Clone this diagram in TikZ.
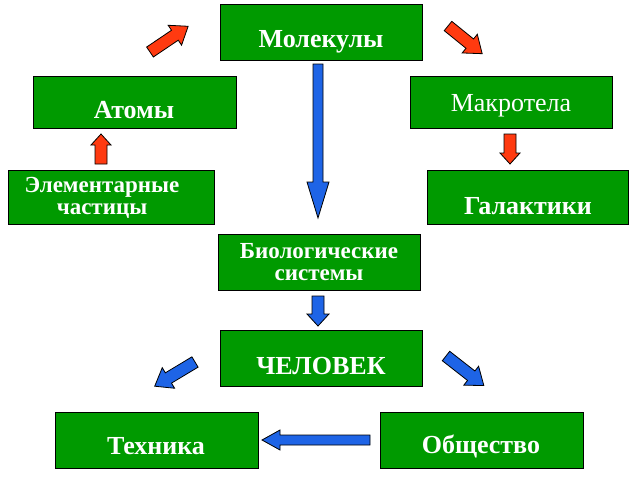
\documentclass[tikz,border=0pt]{standalone}
\usepackage{fontspec}
\setmainfont{Liberation Serif}
\definecolor{boxgreen}{HTML}{009A00}
\definecolor{ared}{HTML}{FF3A10}
\definecolor{ablue}{HTML}{1E64E6}
\newcommand\barrow[9]{%x y angle len shaft head headlen color
\begin{scope}[shift={(#1,#2)},rotate=-#3]
\draw[fill=#8,line width=0.8pt,#9] (0,-#5)--(#4-#7,-#5)--(#4-#7,-#6)--(#4,0)--(#4-#7,#6)--(#4-#7,#5)--(0,#5)--cycle;
\end{scope}}
\begin{document}
\begin{tikzpicture}[x=1pt,y=-1pt,
  gbox/.style={draw=black,fill=boxgreen,line width=0.8pt,anchor=north west,inner sep=0},
  lbl/.style={text=white,font=\bfseries\fontsize{26}{28}\selectfont,align=center},
  lbls/.style={text=white,font=\bfseries\fontsize{23}{22}\selectfont,align=center}]
\useasboundingbox (0,0) rectangle (640,480);
\node[gbox,minimum width=202,minimum height=56] (mol) at (220,4) {};
\node[lbl] (molt) at (321,42) {Молекулы};
\node[gbox,minimum width=203,minimum height=52] (at) at (33,76) {};
\node[lbl] (att) at (134,110) {Атомы};
\node[gbox,minimum width=202,minimum height=52] (mak) at (410,76) {};
\node[lbl,font=\fontsize{26}{28}\selectfont] (makt) at (511,106) {Макротела};
\node[gbox,minimum width=206,minimum height=54] (el) at (8,170) {};
\node[lbls] (elt) at (102,198) {Элементарные\\частицы};
\node[gbox,minimum width=201,minimum height=54] (gal) at (427,170) {};
\node[lbl] (galt) at (528,206) {Галактики};
\node[gbox,minimum width=202,minimum height=56] (bio) at (218,234) {};
\node[lbls] (biot) at (319,262) {Биологические\\системы};
\node[gbox,minimum width=202,minimum height=56] (che) at (220,330) {};
\node[lbl] (chet) at (321,366) {ЧЕЛОВЕК};
\node[gbox,minimum width=203,minimum height=56] (teh) at (55,412) {};
\node[lbl] (teht) at (156,446) {Техника};
\node[gbox,minimum width=203,minimum height=56] (obs) at (380,412) {};
\node[lbl] (obst) at (481,446) {Общество};
\barrow{150}{52}{-34}{46}{6}{12}{16}{ared}{}
\barrow{448}{26}{39}{44}{6}{12}{16}{ared}{}
\barrow{101}{164}{-90}{30}{6}{10}{11}{ared}{}
\barrow{510}{134}{90}{30}{6}{10}{11}{ared}{}
\barrow{318}{64}{90}{154}{5}{11}{36}{ablue}{}
\barrow{318}{296}{90}{30}{6}{11}{12}{ablue}{}
\barrow{195}{362}{149}{47}{6}{12}{16}{ablue}{}
\barrow{446}{356}{38}{48}{6}{12}{16}{ablue}{}
\barrow{370}{440}{180}{108}{5}{10}{18}{ablue}{}
\end{tikzpicture}
\end{document}
